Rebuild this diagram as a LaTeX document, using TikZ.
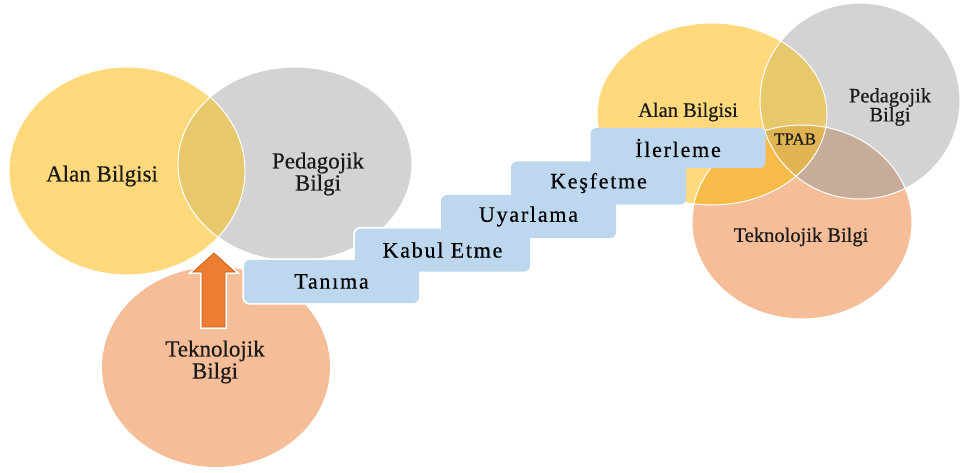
\documentclass[tikz,border=0pt]{standalone}
\usepackage{fontspec}
\setmainfont{Liberation Serif}[FakeBold=0.4]
\usetikzlibrary{positioning, backgrounds}

\definecolor{alanYellow}{HTML}{FFD97B}
\definecolor{pedGray}{HTML}{D3D3D3}
\definecolor{tekSalmon}{HTML}{F5BE98}
\definecolor{stepBlue}{HTML}{BDD7EE}
\definecolor{arrowOrange}{HTML}{ED7D31}
\definecolor{arrowEdge}{HTML}{C9651F}
\definecolor{ovYG}{HTML}{E7C86C}
\definecolor{ovYS}{HTML}{F8BA48}
\definecolor{ovGS}{HTML}{C8AC9A}
\definecolor{ovAll}{HTML}{E0B453}

\tikzset{
    bigLabel/.style={align=center, text=black!90, font=\fontsize{23}{22}\selectfont},
    smallLabel/.style={align=center, text=black!90, font=\fontsize{20.5}{19}\selectfont},
    stepbox/.style={
        fill=stepBlue,
        rounded corners=6pt,
        minimum width=175pt,
        minimum height=43pt,
        inner sep=0pt,
        font=\fontsize{22}{22}\selectfont\addfontfeature{LetterSpace=8}
    },
    rim/.style={draw=white, line width=1pt}
}

\begin{document}
\begin{tikzpicture}[x=1pt, y=-1pt]
        \useasboundingbox (0,0) rectangle (963,473);

        % the steps
        \node[stepbox] (tanima) at (331.5,281.5) {Tanıma};
        \node[stepbox] (kabul) at (442.5,250) {Kabul Etme};
        \node[stepbox] (uyarlama) at (528.5,216.5) {Uyarlama};
        \node[stepbox] (kesfetme) at (598.5,183) {Keşfetme};
        \node[stepbox, minimum height=40pt] (ilerleme) at (678,148) {İlerleme};

        % left group labels
        \node[bigLabel] (alanL) at (102,176) {Alan Bilgisi};
        \node[bigLabel] (pedL) at (318,174) {Pedagojik\\Bilgi};
        \node[bigLabel] (tekL) at (215,362) {Teknolojik\\Bilgi};

        % right group labels
        \node[smallLabel] (alanR) at (688,112) {Alan Bilgisi};
        \node[smallLabel] (pedR) at (890,107) {Pedagojik\\Bilgi};
        \node[smallLabel, font=\fontsize{17}{17}\selectfont] (tpab) at (795,139) {TPAB};
        \node[smallLabel] (tekR) at (801,237) {Teknolojik Bilgi};

        % block arrow
        \draw[
            fill=arrowOrange,
            draw=arrowEdge,
            line width=0.8pt,
            preaction={draw=white, line width=4pt}
        ] (214,253) -- (235,272) -- (225,272) -- (225,327)
          -- (202,327) -- (202,272) -- (193,272) -- cycle;

        \begin{pgfonlayer}{background}
            % left circles
            \fill[alanYellow] (127,171) ellipse [x radius=118, y radius=104];
            \fill[pedGray] (295,164) ellipse [x radius=117, y radius=97];
            \begin{scope}
                \clip (127,171) ellipse [x radius=118, y radius=104];
                \fill[ovYG] (295,164) ellipse [x radius=117, y radius=97];
            \end{scope}
            \fill[tekSalmon] (216,367) ellipse [x radius=114, y radius=100];
            \draw[rim] (127,171) ellipse [x radius=118, y radius=104];
            \draw[rim] (295,164) ellipse [x radius=117, y radius=97];

            % right circles
            \fill[alanYellow] (712,114) ellipse [x radius=115, y radius=91];
            \fill[pedGray] (860,101) ellipse [x radius=100, y radius=98];
            \fill[tekSalmon] (802,222) ellipse [x radius=110, y radius=97];
            \begin{scope}
                \clip (712,114) ellipse [x radius=115, y radius=91];
                \fill[ovYG] (860,101) ellipse [x radius=100, y radius=98];
                \fill[ovYS] (802,222) ellipse [x radius=110, y radius=97];
                \clip (860,101) ellipse [x radius=100, y radius=98];
                \fill[ovAll] (802,222) ellipse [x radius=110, y radius=97];
            \end{scope}
            \begin{scope}
                \clip (860,101) ellipse [x radius=100, y radius=98];
                \clip (802,222) ellipse [x radius=110, y radius=97];
                \fill[ovGS] (700,0) rectangle (963,340);
                \clip (712,114) ellipse [x radius=115, y radius=91];
                \fill[ovAll] (700,0) rectangle (963,340);
            \end{scope}
            \draw[rim] (712,114) ellipse [x radius=115, y radius=91];
            \draw[rim] (860,101) ellipse [x radius=100, y radius=98];
            \draw[rim] (802,222) ellipse [x radius=110, y radius=97];

            % white edge round the lower steps
            \foreach \s in {tanima, kabul, uyarlama}
                \draw[white, line width=3pt, rounded corners=6pt]
                    (\s.south west) rectangle (\s.north east);
        \end{pgfonlayer}
\end{tikzpicture}
\end{document}
